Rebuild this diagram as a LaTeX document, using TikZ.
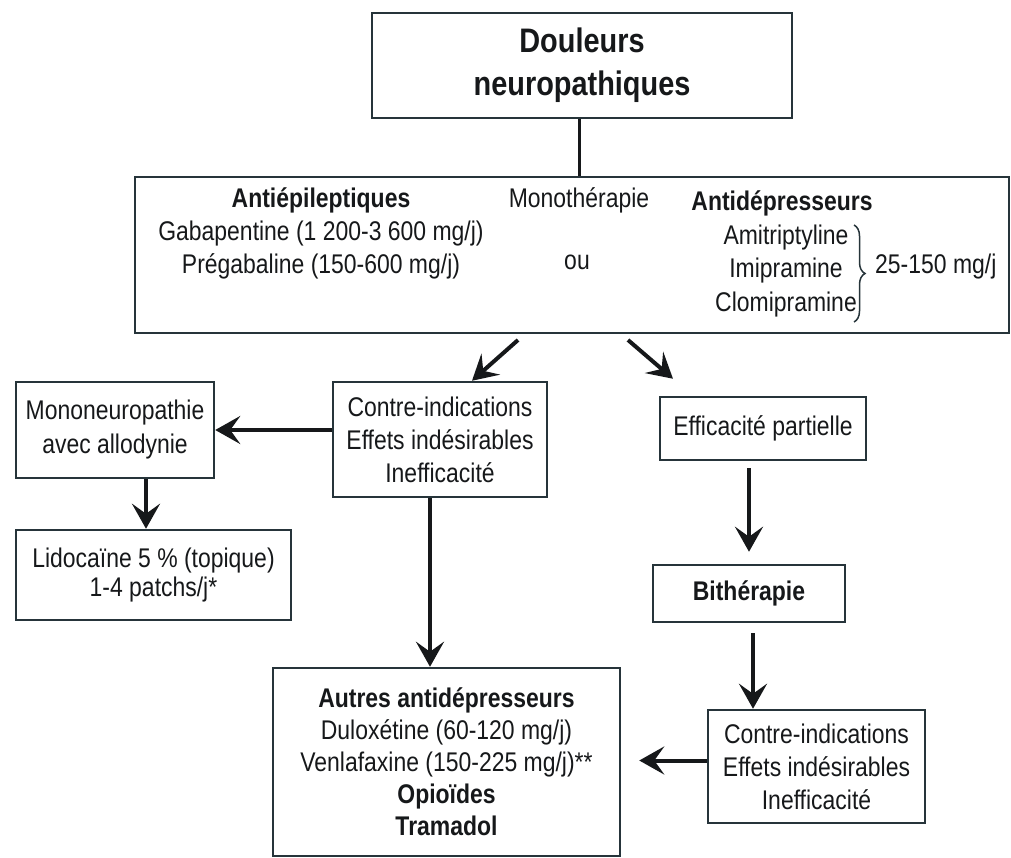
\documentclass[tikz,border=0pt]{standalone}
\usepackage{fontspec}
\setmainfont{Liberation Sans}[FakeStretch=0.85]
\usetikzlibrary{arrows.meta,decorations.pathreplacing}
\definecolor{boxline}{RGB}{38,52,58}
\definecolor{ink}{RGB}{22,24,26}

\begin{document}
\begin{tikzpicture}[x=1pt,y=-1pt,
    box/.style={draw=boxline,line width=2.5pt,align=center,inner sep=0pt,text=ink,font=\fontsize{27}{33}\selectfont},
    txt/.style={align=center,inner sep=0pt,text=ink,font=\fontsize{27}{33}\selectfont},
    arr/.style={draw=ink,line width=4pt,-{Stealth[length=25pt,width=28pt,inset=10pt]}}]
\useasboundingbox (0,0) rectangle (1011,858);

\node[box,minimum width=420pt,minimum height=105pt,font=\bfseries\fontsize{34}{43}\selectfont] (top) at (582,65.5) {Douleurs\\neuropathiques};
\node[box,minimum width=874pt,minimum height=156pt] (main) at (572,255) {};
\node[txt] (antiep) at (321,233) {\textbf{Antiépileptiques}\\Gabapentine (1 200-3 600 mg/j)\\Prégabaline (150-600 mg/j)};
\node[txt] (monoth) at (579,200) {Monothérapie};
\node[txt] (ou) at (577,262) {ou};
\node[txt] (antidep) at (782,203) {\textbf{Antidépresseurs}};
\node[txt,font=\fontsize{27}{33.5}\selectfont] (adlist) at (786,271) {Amitriptyline\\Imipramine\\Clomipramine};
\node[txt,anchor=west] (dose) at (875,267) {25-150 mg/j};
\draw[boxline,line width=1.5pt,decorate,decoration={brace,amplitude=11pt}] (854,225) -- (854,322);

\node[box,minimum width=214pt,minimum height=115pt] (ci1) at (440,439.5) {Contre-indications\\Effets indésirables\\Inefficacité};
\node[box,minimum width=198pt,minimum height=96pt,font=\fontsize{27}{34}\selectfont] (mono) at (115,430) {Mononeuropathie\\avec allodynie};
\node[box,minimum width=275pt,minimum height=90pt,font=\fontsize{27}{29}\selectfont] (lido) at (153.5,575) {Lidocaïne 5 \% (topique)\\1-4 patchs/j*};
\node[box,minimum width=206pt,minimum height=63pt] (eff) at (763,428.5) {Efficacité partielle};
\node[box,minimum width=192pt,minimum height=57pt,font=\bfseries\fontsize{27}{33}\selectfont] (bith) at (749,593.5) {Bithérapie};
\node[box,minimum width=217pt,minimum height=113pt] (ci2) at (816.5,766.5) {Contre-indications\\Effets indésirables\\Inefficacité};
\node[box,minimum width=347pt,minimum height=188pt,font=\fontsize{27}{32}\selectfont] (autres) at (446.5,762) {\textbf{Autres antidépresseurs}\\Duloxétine (60-120 mg/j)\\Venlafaxine (150-225 mg/j)**\\\textbf{Opioïdes}\\\textbf{Tramadol}};

\coordinate (m1) at (518,340);
\coordinate (m2) at (628,340);

\draw[ink,line width=3pt] ([xshift=-3pt]top.south) -- ([xshift=-3pt]top.south |- main.north);
\draw[arr] (m1) -- ([xshift=32pt]ci1.north);
\draw[arr] (m2) -- ([shift={(-90pt,17pt)}]eff.north);
\draw[arr] (ci1.west |- mono.east) -- (mono.east);
\draw[arr] ([xshift=31pt]mono.south) -- ([xshift=31pt]mono.south |- lido.north);
\draw[arr] ([xshift=-10pt]ci1.south) -- ([xshift=-10pt]ci1.south |- autres.north);
\draw[arr,shorten <=7pt,shorten >=12pt] (bith.north |- eff.south) -- (bith.north);
\draw[arr,shorten <=10pt] ([xshift=4pt]bith.south) -- ([xshift=4pt]bith.south |- ci2.north);
\draw[arr,shorten >=18pt] ([yshift=6pt]ci2.west) -- ([yshift=6pt]autres.east |- ci2.west);
\end{tikzpicture}
\end{document}
